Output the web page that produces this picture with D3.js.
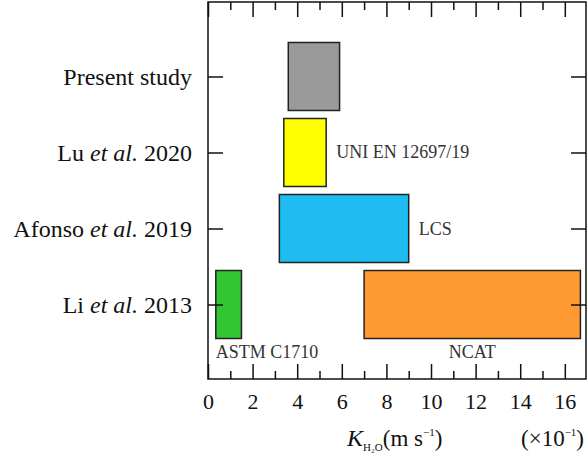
<!DOCTYPE html>
<html><head><meta charset="utf-8">
<script src="https://cdn.jsdelivr.net/npm/d3@7"></script>
<style>
html,body{margin:0;padding:0;background:#fff;}
svg text{font-family:"Liberation Serif","Times New Roman",serif;}
</style></head>
<body>
<svg id="c" width="588" height="459"></svg>
<script>
const categories = ["Present study", "Lu et al. 2020", "Afonso et al. 2019", "Li et al. 2013"];
// ranges of K (x10^-1 m/s): [study, low, high, label]
const studies = ["Present study", "Lu et al. 2020", "Afonso et al. 2019", "Li et al. 2013", "Li et al. 2013"];
const lows    = [3.6, 3.4, 3.2, 0.35, 7.0];
const highs   = [5.9, 5.3, 9.0, 1.5, 16.7];
const labels  = ["", "UNI EN 12697/19", "LCS", "ASTM C1710", "NCAT"];
const labelPos = ["", "right", "right", "below-start", "below-middle"];
const colors  = ["#9a9a9a", "#ffff00", "#1ebcf0", "#33c633", "#ff9a30"];
const majorTicks = [0, 2, 4, 6, 8, 10, 12, 14, 16];
const minorTicks = [1, 3, 5, 7, 9, 11, 13, 15];

const FF = "Liberation Serif, Times New Roman, serif";
const svg = d3.select("#c");
const L = 208, R = 586, T = 2, B = 379;
const x = d3.scaleLinear().domain([0, 16.95]).range([L, R]);
const y = d3.scalePoint().domain(categories).range([T, B]).padding(0.98);
const barH = 68;

// bars
const data = studies.map((s, i) => ({s, lo: lows[i], hi: highs[i], label: labels[i], pos: labelPos[i], color: colors[i]}));
svg.append("g").selectAll("rect").data(data).join("rect")
  .attr("x", d => x(d.lo)).attr("width", d => x(d.hi) - x(d.lo))
  .attr("y", d => y(d.s) - barH / 2).attr("height", barH)
  .attr("fill", d => d.color).attr("stroke", "#222").attr("stroke-width", 1.5);

// bar labels
svg.append("g").selectAll("text").data(data.filter(d => d.label)).join("text")
  .attr("font-family", FF)
  .attr("x", d => d.pos === "right" ? x(d.hi) + 10 : d.pos === "below-start" ? x(d.lo) : (x(d.lo) + x(d.hi)) / 2)
  .attr("y", d => d.pos === "right" ? y(d.s) + 6 : y(d.s) + barH / 2 + 19)
  .attr("text-anchor", d => d.pos === "below-middle" ? "middle" : "start")
  .attr("font-size", 18).attr("fill", "#333")
  .text(d => d.label);

// axes
function styleAxis(g) {
  g.select(".domain").remove();
  g.selectAll(".tick line").attr("stroke", "#111").attr("stroke-width", 1.5);
}
svg.append("g").attr("transform", `translate(0,${B})`)
  .call(d3.axisBottom(x).tickValues(majorTicks).tickSizeInner(-15).tickSizeOuter(0).tickPadding(14).tickFormat(d3.format("d")))
  .call(styleAxis)
  .call(g => g.selectAll("text").attr("font-size", 22).attr("fill", "#111").attr("font-family", FF));
svg.append("g").attr("transform", `translate(0,${B})`)
  .call(d3.axisBottom(x).tickValues(minorTicks).tickSizeInner(-8).tickSizeOuter(0).tickFormat(""))
  .call(styleAxis);
svg.append("g").attr("transform", `translate(0,${T})`)
  .call(d3.axisTop(x).tickValues(majorTicks).tickSizeInner(-15).tickSizeOuter(0).tickFormat(""))
  .call(styleAxis);
svg.append("g").attr("transform", `translate(0,${T})`)
  .call(d3.axisTop(x).tickValues(minorTicks).tickSizeInner(-8).tickSizeOuter(0).tickFormat(""))
  .call(styleAxis);
svg.append("g").attr("transform", `translate(${L},0)`)
  .call(d3.axisLeft(y).tickSizeInner(-15).tickSizeOuter(0).tickPadding(16))
  .call(styleAxis)
  .call(g => g.selectAll("text").attr("font-size", 24).attr("fill", "#111").attr("font-family", FF)
    .each(function(d) {
      const t = d3.select(this); t.text("");
      const parts = d.split("et al.");
      if (parts.length === 2) {
        t.append("tspan").text(parts[0]);
        t.append("tspan").attr("font-style", "italic").text("et al.");
        t.append("tspan").text(parts[1]);
      } else t.text(d);
    }));
svg.append("g").attr("transform", `translate(${R},0)`)
  .call(d3.axisRight(y).tickSizeInner(-15).tickSizeOuter(0).tickFormat(""))
  .call(styleAxis);

// frame
svg.append("rect").attr("x", L).attr("y", T).attr("width", R - L).attr("height", B - T)
  .attr("fill", "none").attr("stroke", "#111").attr("stroke-width", 1.5);

// x title
const xt = svg.append("text").attr("font-family", FF).attr("x", 347).attr("y", 446).attr("fill", "#111").attr("font-size", 23);
xt.append("tspan").attr("font-style", "italic").attr("font-size", 24).text("K");
xt.append("tspan").attr("font-size", 11).attr("dy", 5).text("H₂O");
xt.append("tspan").attr("dy", -5).text("(m s");
xt.append("tspan").attr("font-size", 11).attr("dy", -10).text("−1");
xt.append("tspan").attr("dy", 10).text(")");
const xt2 = svg.append("text").attr("font-family", FF).attr("x", 521).attr("y", 446).attr("fill", "#111").attr("font-size", 23);
xt2.append("tspan").text("(×10");
xt2.append("tspan").attr("font-size", 11).attr("dy", -10).text("−1");
xt2.append("tspan").attr("dy", 10).text(")");
</script>
</body></html>
